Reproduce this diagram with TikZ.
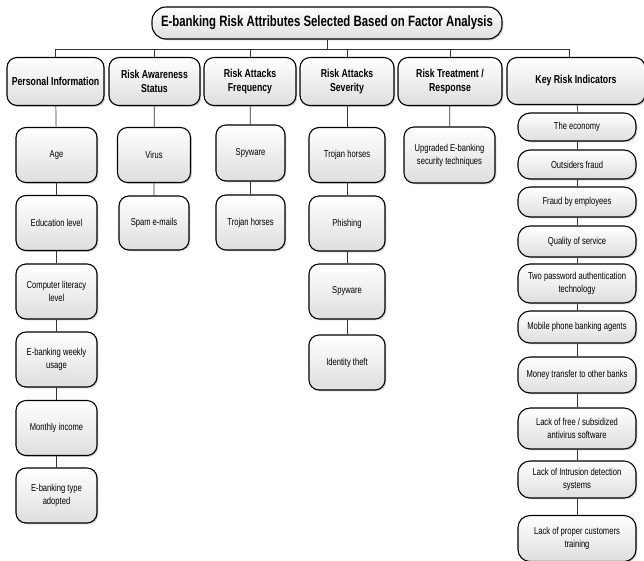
\documentclass[tikz,border=0pt]{standalone}
\usepackage{fontspec}
\setmainfont{Liberation Sans}[FakeStretch=0.76]
\usetikzlibrary{shadows}
\begin{document}
\begin{tikzpicture}[x=1pt,y=-1pt,
  box/.style={draw=black, line width=1.1pt, rounded corners=10pt,
    top color=white, bottom color=black!13, align=center,
    inner sep=1pt, text=black,
    drop shadow={shadow xshift=1.4pt, shadow yshift=-1.4pt, opacity=0.35}},
  titlebox/.style={box, rounded corners=14pt, font=\fontsize{15}{17}\selectfont\bfseries},
  headbox/.style={box, minimum height=48pt, font=\fontsize{11.5}{14}\selectfont\bfseries},
  itembox/.style={box, minimum height=55pt, font=\fontsize{10}{13}\selectfont},
  pillbox/.style={box, rounded corners=12pt, minimum width=118pt, font=\fontsize{10}{13}\selectfont},
  link/.style={draw=black!80, line width=0.7pt}]
\useasboundingbox (0,0) rectangle (644,560);

% title
\node[titlebox, minimum width=350pt, minimum height=32pt] (title) at (327,23) {E-banking Risk Attributes Selected Based on Factor Analysis};

% factor headers
\node[headbox, minimum width=97pt]  (pi)  at (55.5,81.5)  {Personal Information};
\node[headbox, minimum width=91pt]  (ra)  at (154.5,81.5) {Risk Awareness\\Status};
\node[headbox, minimum width=92pt]  (raf) at (250,81.5)   {Risk Attacks\\Frequency};
\node[headbox, minimum width=94pt]  (ras) at (347,81.5)   {Risk Attacks\\Severity};
\node[headbox, minimum width=104pt] (rt)  at (450,81.5)   {Risk Treatment /\\Response};
\node[headbox, minimum width=138pt, minimum height=47pt] (kri) at (576,81) {Key Risk Indicators};

% tree bar
\coordinate (bar) at (0,49);
\draw[link] (title.south) -- (title.south |- bar);
\draw[link] (pi.north) |- ([xshift=-7pt]kri.north |- bar) -- ([xshift=-7pt]kri.north);
\foreach \h in {ra,raf,ras,rt} \draw[link] (\h.north) -- (\h.north |- bar);

% personal information
\node[itembox, minimum width=81pt] (p1) at (56.5,155) {Age};
\node[itembox, minimum width=81pt] (p2) at (56.5,223) {Education level};
\node[itembox, minimum width=81pt] (p3) at (56.5,291.5) {Computer literacy\\level};
\node[itembox, minimum width=81pt] (p4) at (56.5,359.5) {E-banking weekly\\usage};
\node[itembox, minimum width=81pt] (p5) at (56.5,428) {Monthly income};
\node[itembox, minimum width=81pt] (p6) at (56.5,495.5) {E-banking type\\adopted};
\draw[link] (pi) -- (p1) -- (p2) -- (p3) -- (p4) -- (p5) -- (p6);

% risk awareness
\node[itembox, minimum width=73pt] (a1) at (154,155) {Virus};
\node[itembox, minimum width=70pt, minimum height=54pt] (a2) at (154,223) {Spam e-mails};
\draw[link] (ra) -- (a1) -- (a2);

% risk attacks frequency
\node[itembox, minimum width=69pt, minimum height=56pt] (f1) at (250.5,153) {Spyware};
\node[itembox, minimum width=69pt] (f2) at (250.5,222.5) {Trojan horses};
\draw[link] (raf) -- (f1) -- (f2);

% risk attacks severity
\node[itembox, minimum width=76pt] (s1) at (347,155) {Trojan horses};
\node[itembox, minimum width=76pt] (s2) at (347,223.5) {Phishing};
\node[itembox, minimum width=76pt] (s3) at (347,291.5) {Spyware};
\node[itembox, minimum width=76pt] (s4) at (347,362.5) {Identity theft};
\draw[link] (ras) -- (s1) -- (s2) -- (s3) -- (s4);

% risk treatment
\node[itembox, minimum width=91pt, minimum height=56pt] (t1) at (449.5,155) {Upgraded E-banking\\security techniques};
\draw[link] (rt) -- (t1);

% key risk indicators
\node[pillbox, minimum height=28pt] (k1)  at (577,127)   {The economy};
\node[pillbox, minimum height=29pt] (k2)  at (577,164.5) {Outsiders fraud};
\node[pillbox, minimum height=30pt] (k3)  at (577,202)   {Fraud by employees};
\node[pillbox, minimum height=31pt] (k4)  at (577,241.5) {Quality of service};
\node[pillbox, minimum height=39pt] (k5)  at (577,283.5) {Two password authentication\\technology};
\node[pillbox, minimum height=32pt] (k6)  at (577,327)   {Mobile phone banking agents};
\node[pillbox, minimum height=36pt] (k7)  at (577,375)   {Money transfer to other banks};
\node[pillbox, minimum height=41pt] (k8)  at (577,428.5) {Lack of free / subsidized\\antivirus software};
\node[pillbox, minimum height=37pt] (k9)  at (577,479.5) {Lack of Intrusion detection\\systems};
\node[pillbox, minimum height=46pt] (k10) at (577,538.5) {Lack of proper customers\\training};
\draw[link] ([xshift=1pt]kri.south) -- ([xshift=1pt]k1.north);
\draw[link] (k1) -- (k2) -- (k3) -- (k4) -- (k5) -- (k6) -- (k7) -- (k8) -- (k9) -- (k10);
\end{tikzpicture}
\end{document}
